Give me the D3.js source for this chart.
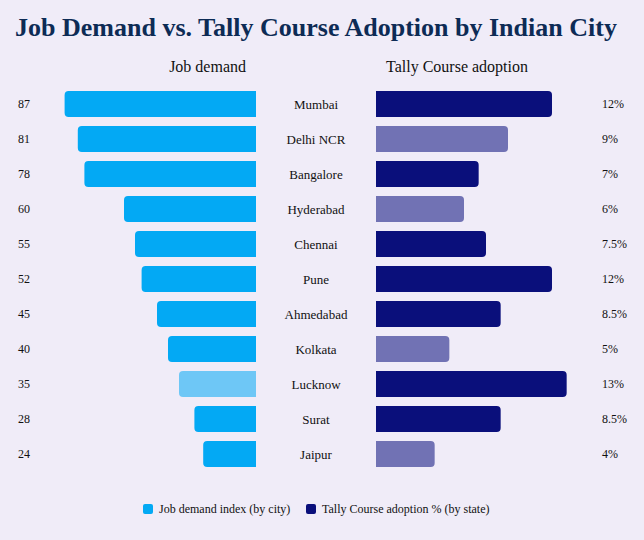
<!DOCTYPE html>
<html>
<head>
<meta charset="utf-8">
<script src="https://cdn.jsdelivr.net/npm/d3@7"></script>
<style>
  body { margin: 0; background: #f0ecf8; }
  svg { display: block; }
  text { font-family: "Liberation Serif", "Times New Roman", Times, serif; }
</style>
</head>
<body>
<div id="chart"></div>
<script>
const cities = ['Mumbai', 'Delhi NCR', 'Bangalore', 'Hyderabad', 'Chennai', 'Pune',
                'Ahmedabad', 'Kolkata', 'Lucknow', 'Surat', 'Jaipur'];
const jobDemand = [87, 81, 78, 60, 55, 52, 45, 40, 35, 28, 24];
const adoption = [12, 9, 7, 6, 7.5, 12, 8.5, 5, 13, 8.5, 4];
// rows drawn faded on each side
const fadedDemand = ['Lucknow'];
const fadedAdoption = ['Delhi NCR', 'Hyderabad', 'Kolkata', 'Jaipur'];

const W = 644, H = 540;
const cx = 316;
const leftEdge = 256, rightEdge = 376;
const serif = '"Liberation Serif", "Times New Roman", Times, serif';

const svg = d3.select('#chart').append('svg')
    .attr('width', W)
    .attr('height', H)
    .attr('font-family', serif);

svg.append('rect').attr('width', W).attr('height', H).attr('fill', '#f0ecf8');

svg.append('text')
    .attr('x', cx).attr('y', 36)
    .attr('text-anchor', 'middle')
    .attr('font-family', serif)
    .attr('font-size', 26).attr('font-weight', 'bold')
    .attr('fill', '#0d2b55')
    .text('Job Demand vs. Tally Course Adoption by Indian City');

let y = d3.scaleBand()
    .domain(cities)
    .range([86.5, 471.5])
    .paddingInner(9 / 35)
    .paddingOuter(9 / 70);

let xL = d3.scaleLinear().domain([0, 100]).range([0, 220]);
let xR = d3.scaleLinear().domain([0, 15]).range([0, 220]);

// rect with the two outer corners rounded
function sideRect(x0, y0, w, h, r, roundRight) {
    r = Math.min(r, w / 2);
    if (roundRight) {
        return `M${x0},${y0}H${x0 + w - r}Q${x0 + w},${y0} ${x0 + w},${y0 + r}` +
               `V${y0 + h - r}Q${x0 + w},${y0 + h} ${x0 + w - r},${y0 + h}H${x0}Z`;
    }
    return `M${x0 + w},${y0}H${x0 + r}Q${x0},${y0} ${x0},${y0 + r}` +
           `V${y0 + h - r}Q${x0},${y0 + h} ${x0 + r},${y0 + h}H${x0 + w}Z`;
}

const rows = cities.map((c, i) => ({city: c, demand: jobDemand[i], adopt: adoption[i]}));

// headers
svg.append('text')
    .attr('x', leftEdge - 10).attr('y', 72)
    .attr('text-anchor', 'end').attr('font-size', 16).attr('fill', '#111')
    .attr('font-family', serif)
    .text('Job demand');
svg.append('text')
    .attr('x', rightEdge + 10).attr('y', 72)
    .attr('text-anchor', 'start').attr('font-size', 16).attr('fill', '#111')
    .attr('font-family', serif)
    .text('Tally Course adoption');

let g = svg.append('g');

g.selectAll('.left')
    .data(rows)
    .enter()
    .append('path')
    .attr('d', d => sideRect(leftEdge - xL(d.demand), y(d.city), xL(d.demand), y.bandwidth(), 4, false))
    .attr('fill', '#03a9f4')
    .attr('fill-opacity', d => fadedDemand.includes(d.city) ? 0.55 : 1);

g.selectAll('.right')
    .data(rows)
    .enter()
    .append('path')
    .attr('d', d => sideRect(rightEdge, y(d.city), xR(d.adopt), y.bandwidth(), 4, true))
    .attr('fill', '#0a0f7b')
    .attr('fill-opacity', d => fadedAdoption.includes(d.city) ? 0.55 : 1);

g.selectAll('.city')
    .data(rows)
    .enter()
    .append('text')
    .attr('x', cx)
    .attr('y', d => y(d.city) + y.bandwidth() / 2)
    .attr('dy', '0.35em')
    .attr('text-anchor', 'middle')
    .attr('font-family', serif)
    .attr('font-size', 13).attr('fill', '#111')
    .text(d => d.city);

g.selectAll('.lval')
    .data(rows)
    .enter()
    .append('text')
    .attr('x', 18)
    .attr('y', d => y(d.city) + y.bandwidth() / 2)
    .attr('dy', '0.35em')
    .attr('font-family', serif)
    .attr('font-size', 12).attr('fill', '#111')
    .text(d => d.demand);

g.selectAll('.rval')
    .data(rows)
    .enter()
    .append('text')
    .attr('x', 602)
    .attr('y', d => y(d.city) + y.bandwidth() / 2)
    .attr('dy', '0.35em')
    .attr('font-family', serif)
    .attr('font-size', 12).attr('fill', '#111')
    .text(d => d.adopt + '%');

// legend
const legend = [
    {label: 'Job demand index (by city)', color: '#03a9f4', x: 143},
    {label: 'Tally Course adoption % (by state)', color: '#0a0f7b', x: 306}
];
let lg = svg.append('g').selectAll('g')
    .data(legend)
    .enter()
    .append('g')
    .attr('transform', d => `translate(${d.x},504)`);
lg.append('rect')
    .attr('width', 10).attr('height', 10).attr('rx', 2)
    .attr('fill', d => d.color);
lg.append('text')
    .attr('x', 16).attr('y', 5).attr('dy', '0.35em')
    .attr('font-family', serif)
    .attr('font-size', 12).attr('fill', '#111')
    .text(d => d.label);
</script>
</body>
</html>
